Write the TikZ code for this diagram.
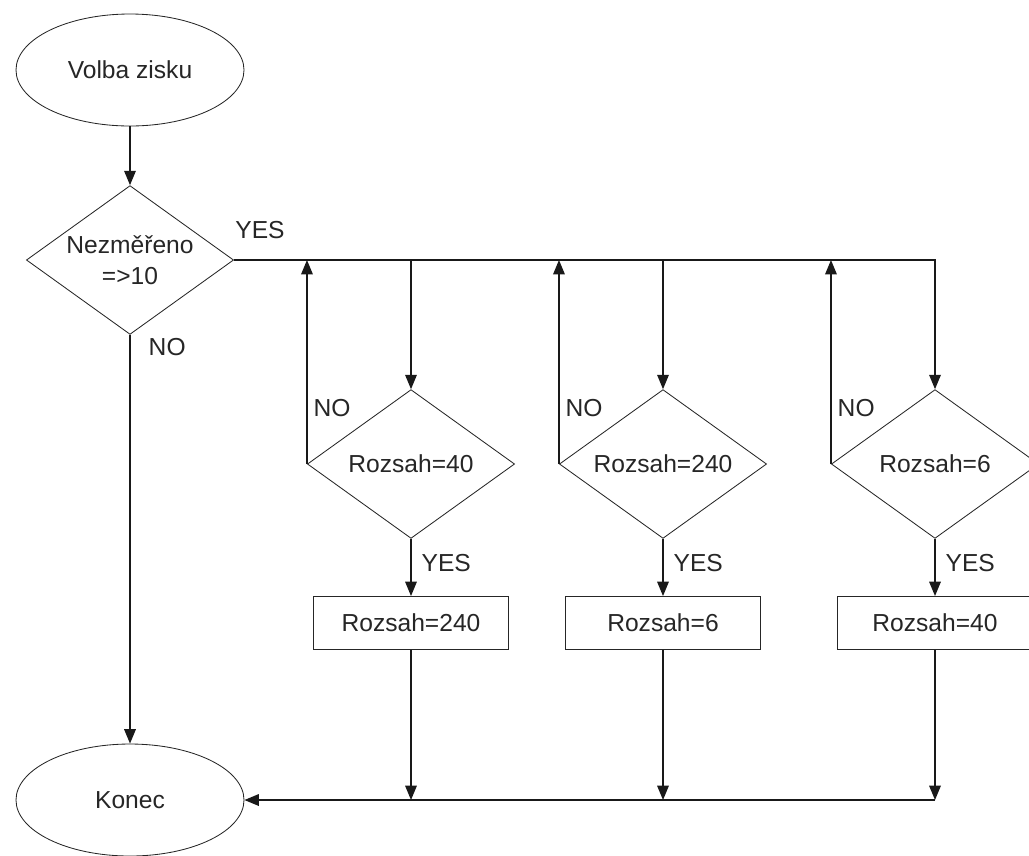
\documentclass[tikz,border=0pt]{standalone}
\usepackage{fontspec}
\setmainfont{Liberation Sans}
\usetikzlibrary{arrows.meta, positioning, shapes.geometric}
\tikzset{
  base/.style={draw=black!85, line width=0.6pt, font=\fontsize{17.5}{22}\selectfont,
    align=center, inner sep=0pt, text=black!85},
  terminal/.style={base, ellipse, minimum width=5.7cm, minimum height=2.8cm},
  decision/.style={base, diamond, aspect=1.4, minimum width=5.18cm, minimum height=3.72cm},
  procbox/.style={base, rectangle, minimum width=4.88cm, minimum height=1.33cm},
  flow/.style={-{Triangle[length=3.6mm, width=2.9mm]}, line width=1pt, draw=black!90},
  wire/.style={line width=1pt, draw=black!90},
  lbl/.style={font=\fontsize{17.5}{22}\selectfont, text=black!85},
}

\begin{document}
\begin{tikzpicture}
  \useasboundingbox (0,0) rectangle (25.725,-21.375);

  % start, first test, end
  \node[terminal] (volba) at (3.25,-1.75) {Volba zisku};
  \node[decision] (nezm) at (3.25,-6.5) {Nezměřeno\\=>10};
  \node[terminal] (konec) at (3.25,-20.0) {Konec};

  % range tests
  \node[decision] (r40)  at (10.275,-11.6) {Rozsah=40};
  \node[decision] (r240) at (16.575,-11.6) {Rozsah=240};
  \node[decision] (r6)   at (23.375,-11.6) {Rozsah=6};

  % range changes
  \node[procbox, below=1.43cm of r40]  (s240) {Rozsah=240};
  \node[procbox, below=1.43cm of r240] (s6)   {Rozsah=6};
  \node[procbox, below=1.43cm of r6]   (s40)  {Rozsah=40};

  % arrows
  \draw[flow] (volba) -- (nezm);
  \draw[flow] (nezm.south) -- (konec.north);
  \draw[flow] (nezm.east) -| (r6.north);
  \draw[flow] (r40 |- nezm.east)  -- (r40.north);
  \draw[flow] (r240 |- nezm.east) -- (r240.north);

  \foreach \d/\s in {r40/s240, r240/s6, r6/s40} {
    \draw[flow] (\d.west) -- (\d.west |- nezm.east);
    \draw[flow] (\d.south) -- (\s.north);
    \draw[flow] (\s.south) -- (\s.south |- konec.east);
    \node[lbl] at ([xshift=0.63cm, yshift=1.4cm]\d.west) {NO};
    \node[lbl] at ([xshift=0.88cm, yshift=-0.6cm]\d.south) {YES};
  }
  \draw[flow] (s40.south |- konec.east) -- (konec.east);

  \node[lbl] at ([xshift=0.65cm, yshift=0.75cm]nezm.east) {YES};
  \node[lbl] at ([xshift=0.93cm, yshift=-0.3cm]nezm.south) {NO};

\end{tikzpicture}
\end{document}
